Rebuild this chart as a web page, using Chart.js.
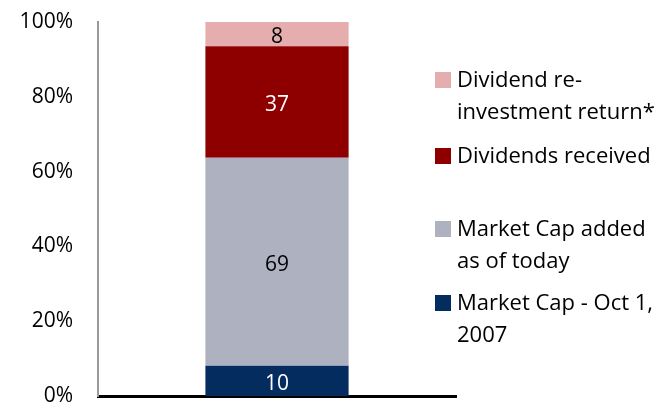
<!DOCTYPE html>
<html>
<head>
<meta charset="utf-8">
<script src="https://cdn.jsdelivr.net/npm/chart.js@4/dist/chart.umd.min.js"></script>
<style>
  html, body { margin: 0; padding: 0; background: #fff; }
  #wrap { width: 668px; height: 402px; position: relative; }
</style>
</head>
<body>
<div id="wrap"><canvas id="chart" width="668" height="402"></canvas></div>
<script>
// ---- data ----
const categories = [""];
const seriesNames = [
  ["Market Cap - Oct 1,", "2007"],
  ["Market Cap added", "as of today"],
  ["Dividends received"],
  ["Dividend re-", "investment return*"]
];
const seriesValues = [10, 69, 37, 8];
const seriesColors = ["#052C5E", "#AEB1C0", "#8E0000", "#E5ADAD"];
const labelColors = ["#ffffff", "#000000", "#ffffff", "#000000"];
const yTicks = [0, 20, 40, 60, 80, 100];

const FONT = "'Open Sans', Lato, sans-serif";
const total = seriesValues.reduce((a, b) => a + b, 0);

// etiquetas dentro de cada segmento
const segmentLabels = {
  id: "segmentLabels",
  afterDatasetsDraw(chart) {
    const ctx = chart.ctx;
    ctx.save();
    ctx.font = "21px " + FONT;
    ctx.textAlign = "center";
    ctx.textBaseline = "middle";
    chart.data.datasets.forEach((ds, i) => {
      const bar = chart.getDatasetMeta(i).data[0];
      ctx.fillStyle = labelColors[i];
      ctx.fillText(String(seriesValues[i]), bar.x, (bar.y + bar.base) / 2 + 3);
    });
    ctx.restore();
  }
};

// leyenda a la derecha, de arriba hacia abajo
const sideLegend = {
  id: "sideLegend",
  afterDraw(chart) {
    const ctx = chart.ctx;
    const rows = [80, 156, 229, 303]; // centro de cada cuadro
    ctx.save();
    ctx.font = "22px " + FONT;
    ctx.textBaseline = "middle";
    ctx.textAlign = "left";
    const order = [3, 2, 1, 0];
    order.forEach((idx, k) => {
      const y = rows[k];
      ctx.fillStyle = seriesColors[idx];
      ctx.fillRect(435, y - 8, 16, 16);
      ctx.fillStyle = "#000";
      seriesNames[idx].forEach((line, j) => {
        ctx.fillText(line, 457, y + j * 32 + 1);
      });
    });
    ctx.restore();
  }
};

new Chart(document.getElementById("chart"), {
  type: "bar",
  data: {
    labels: categories,
    datasets: seriesValues.map((v, i) => ({
      label: seriesNames[i].join(" "),
      data: [v / total * 100],
      backgroundColor: seriesColors[i],
      borderWidth: 0,
      barPercentage: 0.8,
      categoryPercentage: 0.5
    }))
  },
  options: {
    responsive: false,
    animation: false,
    devicePixelRatio: 1,
    layout: { padding: { left: 0, right: 212, top: 22, bottom: 6 } },
    plugins: { legend: { display: false }, tooltip: { enabled: false } },
    scales: {
      x: {
        stacked: true,
        grid: { display: false, drawTicks: false },
        border: { display: true, color: "#000", width: 3 },
        ticks: { display: false }
      },
      y: {
        stacked: true,
        min: 0,
        max: 100,
        afterBuildTicks(scale) { scale.ticks = yTicks.map(v => ({ value: v })); },
        afterFit(scale) {
          scale.width = 98;
          scale.paddingTop = 0;
          scale.paddingBottom = 0;
        },
        grid: { display: false, drawTicks: false },
        border: { display: true, color: "#999", width: 2 },
        ticks: {
          padding: 25,
          color: "#000",
          font: { family: FONT, size: 21 },
          callback: v => v + "%"
        }
      }
    }
  },
  plugins: [segmentLabels, sideLegend]
});
</script>
</body>
</html>
